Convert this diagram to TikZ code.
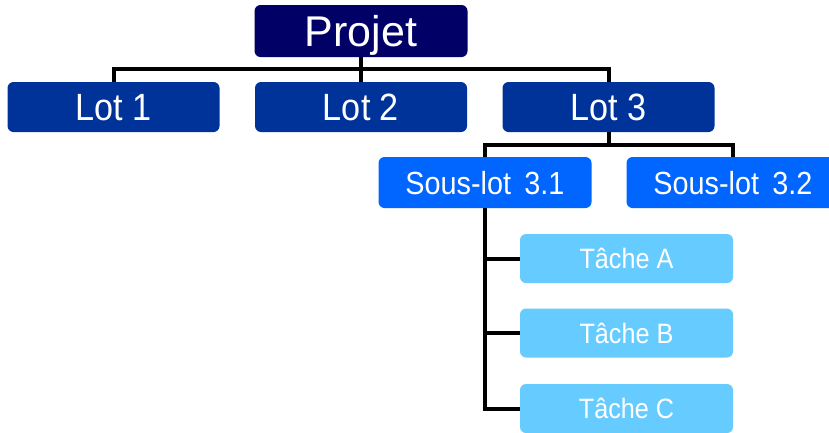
\documentclass[tikz,border=0pt]{standalone}
\usepackage{fontspec}
\setmainfont{Liberation Sans}
\newfontfamily\narrowfont[FakeStretch=0.9]{Liberation Sans}

\definecolor{projetblue}{HTML}{000066}
\definecolor{lotblue}{HTML}{003399}
\definecolor{souslotblue}{HTML}{0066FF}
\definecolor{tacheblue}{HTML}{66CCFF}

\tikzset{
	box/.style={rounded corners=6pt, text=white, inner sep=0pt, text depth=0pt},
	projetbox/.style={box, fill=projetblue, minimum width=213pt, minimum height=52pt,
		font=\fontsize{43}{43}\selectfont, text height=31pt},
	lotbox/.style={box, fill=lotblue, minimum width=212pt, minimum height=50pt,
		font=\narrowfont\fontsize{38}{38}\selectfont, text height=27pt},
	souslotbox/.style={box, fill=souslotblue, minimum width=213pt, minimum height=51pt,
		font=\narrowfont\fontsize{32}{32}\selectfont, text height=23pt},
	tachebox/.style={box, fill=tacheblue, minimum width=213pt, minimum height=49pt,
		font=\narrowfont\fontsize{28}{28}\selectfont, text height=20pt},
	link/.style={black, line width=4pt}
}

\begin{document}
\begin{tikzpicture}[x=1pt,y=-1pt]
		\useasboundingbox (0,0) rectangle (829,432);
		\clip (0,0) rectangle (829,432);
		% level 0 and 1
		\node[projetbox] (projet) at (361,31) {Projet};
		\node[lotbox] (lot1) at (113.5,107) {Lot 1};
		\node[lotbox] (lot2) at (361,107) {Lot 2};
		\node[lotbox] (lot3) at (608.5,107) {Lot 3};
		% level 2
		\node[souslotbox] (sl31) at (485,182.5) {Sous-lot\, 3.1};
		\node[souslotbox] (sl32) at (733,182.5) {Sous-lot\, 3.2};
		% level 3
		\node[tachebox] (tacheA) at (626.5,258.5) {Tâche A};
		\node[tachebox] (tacheB) at (626.5,333) {Tâche B};
		\node[tachebox] (tacheC) at (626.5,408.5) {Tâche C};
		\coordinate (bus1) at (361,69);
		\coordinate (bus2) at (608.5,145);
		\draw[link] (projet.south) -- (lot2.north);
		\draw[link] (lot1.north) |- (bus1) -| (lot3.north);
		\draw[link] (lot3.south) -- (bus2);
		\draw[link] (sl31.north) |- (bus2) -| (sl32.north);
		\draw[link] (sl31.south) |- (tacheC.west);
		\draw[link] (sl31.south |- tacheA) -- (tacheA.west);
		\draw[link] (sl31.south |- tacheB) -- (tacheB.west);
	\end{tikzpicture}
\end{document}
